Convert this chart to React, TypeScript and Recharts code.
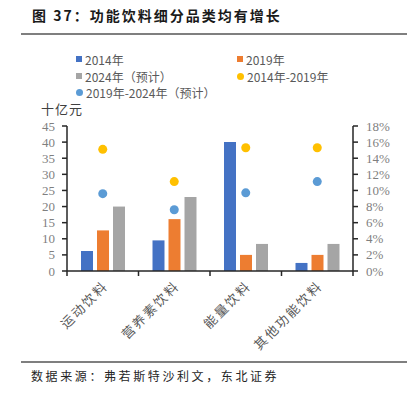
import { ComposedChart, Bar, Line, XAxis, YAxis } from "recharts";

const categories = ["运动饮料", "营养素饮料", "能量饮料", "其他功能饮料"];
const sales2014 = [6.2, 9.5, 40, 2.5];
const sales2019 = [12.6, 16.1, 5, 5];
const sales2024 = [20, 23, 8.4, 8.4];
const cagr1419 = [15.1, 11.1, 15.3, 15.3];
const cagr1924 = [9.6, 7.6, 9.7, 11.1];
const leftTicks = [0, 5, 10, 15, 20, 25, 30, 35, 40, 45];
const rightTicks = [0, 2, 4, 6, 8, 10, 12, 14, 16, 18];

const data = categories.map((name, i) => ({
  name,
  a: sales2014[i],
  b: sales2019[i],
  c: sales2024[i],
  g1: cagr1419[i],
  g2: cagr1924[i],
}));

const CJK = '"Noto Sans CJK SC", sans-serif';
const SERIF = '"Liberation Serif", "Times New Roman", serif';
const AXIS = "#262626";

function CatTick(props: any) {
  const { x, y, payload, index } = props;
  const off = payload.offset ?? 35.75;
  const tx = x + 6;
  const ty = y + 16;
  return (
    <g>
      <line x1={x - off} y1={y} x2={x - off} y2={y + 5} stroke={AXIS} strokeWidth={1.5} />
      {index === categories.length - 1 && (
        <line x1={x + off} y1={y} x2={x + off} y2={y + 5} stroke={AXIS} strokeWidth={1.5} />
      )}
      <text
        x={tx}
        y={ty}
        textAnchor="end"
        transform={`rotate(-45, ${tx}, ${ty})`}
        fontFamily={CJK}
        fontSize={13}
        letterSpacing={2}
        fill="#595959"
      >
        {payload.value}
      </text>
    </g>
  );
}

function NumTick(props: any) {
  const { x, y, payload, textAnchor, suffix } = props;
  return (
    <text
      x={x}
      y={y}
      dy={4.5}
      textAnchor={textAnchor}
      style={{ fontFamily: SERIF, fontSize: 13, fill: "#7f7f7f" }}
    >
      {payload.value}
      {suffix}
    </text>
  );
}

const legendItems = [
  { label: "2014年", color: "#4472C4", round: false, x: 76, y: 59 },
  { label: "2019年", color: "#ED7D31", round: false, x: 237, y: 59 },
  { label: "2024年（预计）", color: "#A5A5A5", round: false, x: 76, y: 76 },
  { label: "2014年-2019年", color: "#FFC000", round: true, x: 237, y: 76 },
  { label: "2019年-2024年（预计）", color: "#5B9BD5", round: true, x: 76, y: 92 },
];

export default function App() {
  return (
    <div style={{ position: "absolute", left: 0, top: 0, width: 417, height: 399, background: "#fff" }}>
      <div
        style={{
          position: "absolute",
          left: 32,
          top: 5,
          fontFamily: CJK,
          fontWeight: 700,
          fontSize: 14,
          letterSpacing: 2,
          color: "#1a1a1a",
          whiteSpace: "nowrap",
        }}
      >
        图 37：功能饮料细分品类均有增长
      </div>
      <div style={{ position: "absolute", left: 21, top: 33, width: 386, height: 1.5, background: "#7f7f7f" }} />

      {legendItems.map((it) => (
        <div
          key={it.label}
          style={{
            position: "absolute",
            left: it.x,
            top: it.y - 8,
            height: 16,
            display: "flex",
            alignItems: "center",
            fontFamily: CJK,
            fontSize: 12,
            color: "#595959",
            whiteSpace: "nowrap",
          }}
        >
          <span
            style={{
              display: "inline-block",
              width: it.round ? 7 : 6,
              height: it.round ? 7 : 6,
              borderRadius: it.round ? "50%" : 0,
              background: it.color,
              marginRight: 3,
            }}
          />
          {it.label}
        </div>
      ))}

      <div
        style={{
          position: "absolute",
          left: 41,
          top: 102,
          fontFamily: CJK,
          fontSize: 13,
          lineHeight: "13px",
          color: "#404040",
          letterSpacing: 1,
        }}
      >
        十亿元
      </div>

      <ComposedChart
        width={417}
        height={399}
        data={data}
        margin={{ top: 126, right: 0, bottom: 0, left: 0 }}
        barSize={12}
        barGap={4}
        style={{ position: "absolute", left: 0, top: 0 }}
      >
        <XAxis
          dataKey="name"
          height={128}
          tickLine={false}
          tickSize={0}
          tickMargin={0}
          interval={0}
          axisLine={{ stroke: AXIS, strokeWidth: 1.5 }}
          tick={<CatTick />}
        />
        <YAxis
          yAxisId="left"
          width={67}
          domain={[0, 45]}
          ticks={leftTicks}
          interval={0}
          tickSize={5}
          tickMargin={7}
          axisLine={{ stroke: AXIS, strokeWidth: 1.5 }}
          tickLine={{ stroke: AXIS, strokeWidth: 1.5 }}
          tick={<NumTick suffix="" />}
        />
        <YAxis
          yAxisId="right"
          orientation="right"
          width={64}
          domain={[0, 18]}
          ticks={rightTicks}
          interval={0}
          tickSize={5}
          tickMargin={8}
          axisLine={{ stroke: AXIS, strokeWidth: 1.5 }}
          tickLine={{ stroke: AXIS, strokeWidth: 1.5 }}
          tick={<NumTick suffix="%" />}
        />
        <Bar yAxisId="left" dataKey="a" fill="#4472C4" isAnimationActive={false} />
        <Bar yAxisId="left" dataKey="b" fill="#ED7D31" isAnimationActive={false} />
        <Bar yAxisId="left" dataKey="c" fill="#A5A5A5" isAnimationActive={false} />
        <Line
          yAxisId="right"
          dataKey="g1"
          stroke="none"
          dot={{ r: 4.5, fill: "#FFC000", stroke: "none" }}
          activeDot={false}
          isAnimationActive={false}
        />
        <Line
          yAxisId="right"
          dataKey="g2"
          stroke="none"
          dot={{ r: 4.5, fill: "#5B9BD5", stroke: "none" }}
          activeDot={false}
          isAnimationActive={false}
        />
      </ComposedChart>

      <div style={{ position: "absolute", left: 21, top: 361, width: 386, height: 1.5, background: "#7f7f7f" }} />
      <div
        style={{
          position: "absolute",
          left: 31,
          top: 367,
          fontFamily: CJK,
          fontSize: 12,
          letterSpacing: 2.6,
          color: "#262626",
          whiteSpace: "nowrap",
        }}
      >
        数据来源：弗若斯特沙利文，东北证券
      </div>
    </div>
  );
}
